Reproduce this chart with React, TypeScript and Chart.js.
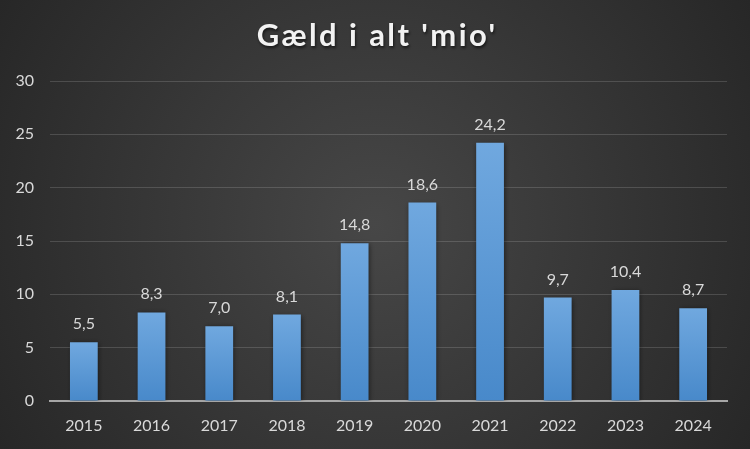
import React, { useEffect, useRef } from "react";
import { Chart, registerables } from "chart.js";
Chart.register(...registerables);

const categories = ["2015", "2016", "2017", "2018", "2019", "2020", "2021", "2022", "2023", "2024"];
const values = [5.5, 8.3, 7.0, 8.1, 14.8, 18.6, 24.2, 9.7, 10.4, 8.7];
const yTicks = [0, 5, 10, 15, 20, 25, 30];
const title = "Gæld i alt 'mio'";

const fmt = (v: number) => v.toFixed(1).replace(".", ",");

export default function App() {
  const ref = useRef<HTMLCanvasElement>(null);
  useEffect(() => {
    document.body.style.margin = "0";
    const bgPlugin = {
      id: "bg",
      beforeDraw(chart: any) {
        const { ctx, width, height } = chart;
        ctx.save();
        const g = ctx.createRadialGradient(width / 2, height / 2, 0, width / 2, height / 2, width * 0.6);
        g.addColorStop(0, "#474747");
        g.addColorStop(1, "#262626");
        ctx.fillStyle = g;
        ctx.fillRect(0, 0, width, height);
        ctx.font = "bold 31px Lato";
        ctx.textAlign = "center";
        ctx.textBaseline = "alphabetic";
        ctx.shadowColor = "rgba(0,0,0,0.6)";
        ctx.shadowBlur = 3;
        ctx.shadowOffsetX = 1;
        ctx.shadowOffsetY = 2;
        ctx.fillStyle = "#f2f2f2";
        (ctx as any).letterSpacing = "2.4px";
        ctx.fillText(title, width / 2 + 2, 46);
        ctx.restore();
      },
      beforeDatasetsDraw(chart: any) {
        const ctx = chart.ctx;
        ctx.save();
        ctx.shadowColor = "rgba(0,0,0,0.5)";
        ctx.shadowBlur = 5;
        ctx.shadowOffsetX = 1;
        ctx.shadowOffsetY = 1;
      },
      afterDatasetsDraw(chart: any) {
        const ctx = chart.ctx;
        ctx.restore();
        ctx.save();
        ctx.font = "16px Lato";
        ctx.fillStyle = "#d9d9d9";
        ctx.textAlign = "center";
        ctx.textBaseline = "alphabetic";
        const meta = chart.getDatasetMeta(0);
        meta.data.forEach((el: any, i: number) => {
          ctx.fillText(fmt(values[i]), el.x, el.y - 13);
        });
        ctx.restore();
      },
    };
    const chart = new Chart(ref.current!, {
      type: "bar",
      data: {
        labels: categories,
        datasets: [
          {
            data: values,
            backgroundColor: (c: any) => {
              const ch = c.chart;
              const ys = ch.scales?.y;
              if (!ys || c.type !== "data") return "#5b9bd5";
              const top = ys.getPixelForValue(c.parsed?.y ?? values[c.dataIndex]);
              const bottom = ys.getPixelForValue(0);
              if (!isFinite(top) || !isFinite(bottom) || top === bottom) return "#5b9bd5";
              const g = ch.ctx.createLinearGradient(0, top, 0, bottom);
              g.addColorStop(0, "#70a8df");
              g.addColorStop(1, "#4889ca");
              return g;
            },
            borderWidth: 0,
            categoryPercentage: 1,
            barPercentage: 0.41,
          },
        ],
      },
      options: {
        animation: false,
        responsive: false,
        layout: { padding: { top: 81, right: 23, left: 0, bottom: 0 } },
        plugins: { legend: { display: false }, tooltip: { enabled: false }, title: { display: false } },
        scales: {
          x: {
            grid: { display: false, drawTicks: false },
            border: { display: true, color: "#a6a6a6", width: 2 },
            ticks: { color: "#d9d9d9", font: { family: "Lato", size: 16 }, padding: 15 },
            afterFit(s: any) {
              s.height = 48;
            },
          },
          y: {
            min: 0,
            max: 30,
            afterBuildTicks(s: any) {
              s.ticks = yTicks.map((v) => ({ value: v }));
            },
            grid: { color: "rgba(255,255,255,0.15)", drawTicks: false, lineWidth: 1 },
            border: { display: false },
            ticks: { color: "#d9d9d9", font: { family: "Lato", size: 16 }, padding: 16 },
            afterFit(s: any) {
              s.width = 50;
            },
          },
        },
      },
      plugins: [bgPlugin],
    });
    return () => chart.destroy();
  }, []);
  return <canvas ref={ref} width={750} height={449} style={{ display: "block" }} />;
}
